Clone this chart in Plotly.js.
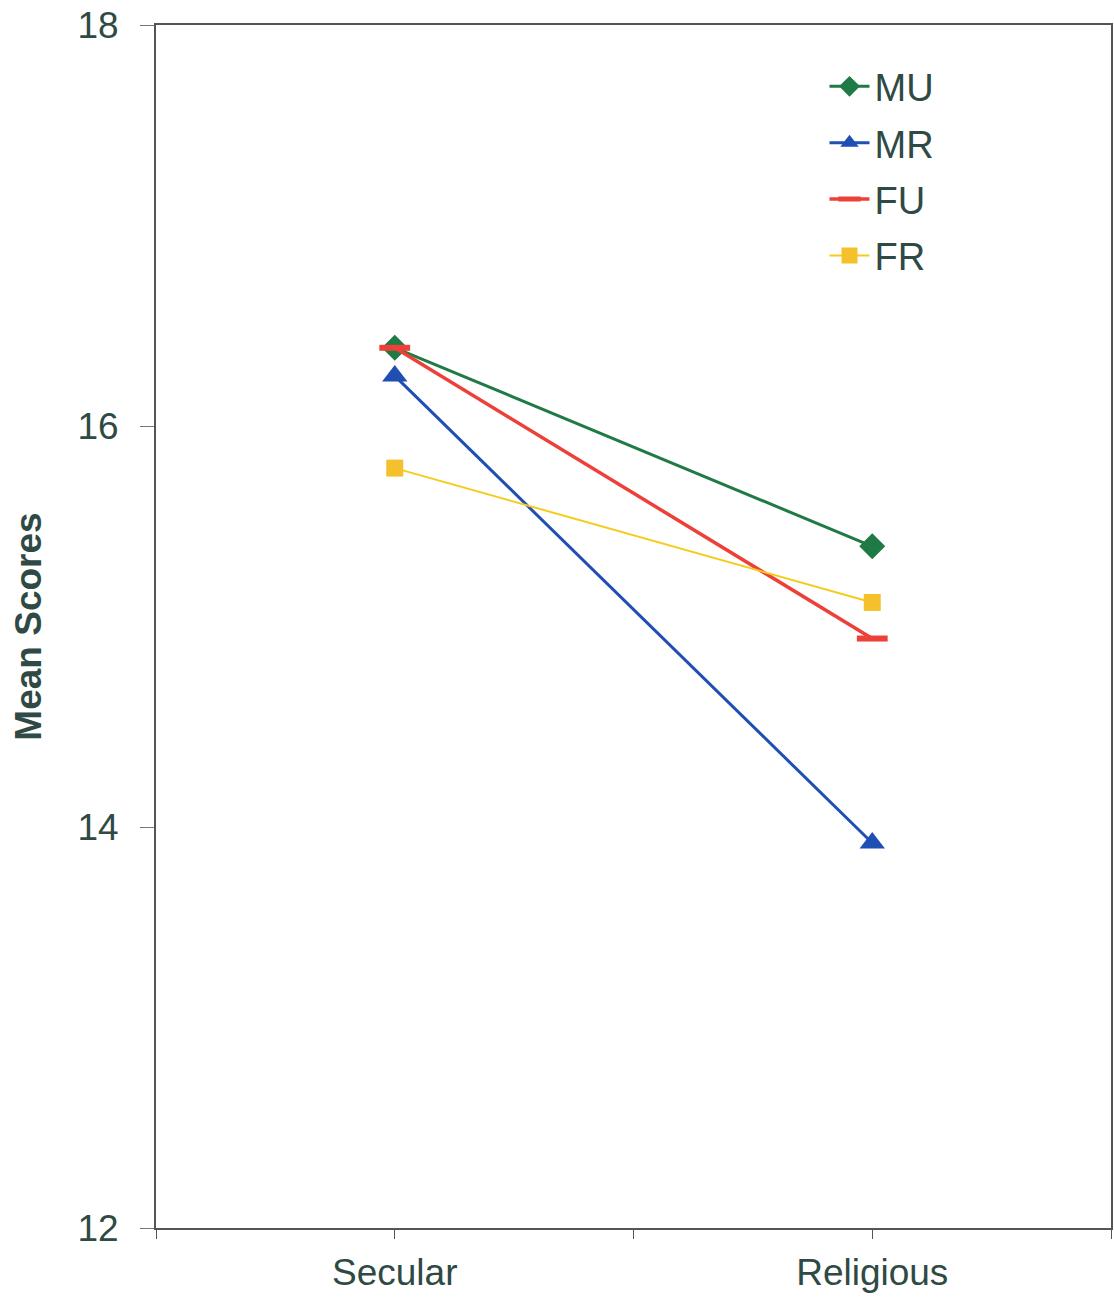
<!DOCTYPE html>
<html>
<head>
<meta charset="utf-8">
<script src="https://cdn.plot.ly/plotly-3.0.1.min.js"></script>
<style>html,body{margin:0;padding:0;background:#fff;}#chart{width:1114px;height:1299px;}</style>
</head>
<body>
<div id="chart"></div>
<script>
// Data
const categories = ["Secular", "Religious"];
const seriesNames = ["MU", "MR", "FU", "FR"];
const MU = [16.39, 15.40];
const MR = [16.25, 13.92];
const FU = [16.39, 14.94];
const FR = [15.79, 15.12];
const yTickVals = [12, 14, 16, 18];
const yTickText = ["12", "14", "16", "18"];

const catPos = categories.map((c, i) => i);
const textColor = "#2f4a44";
const fontFam = "Liberation Sans, Arial, sans-serif";

const styles = {
  MU: {line: {color: "#1f7a45", width: 3}, marker: {symbol: "diamond", size: 20, color: "#1f7a45"}},
  MR: {line: {color: "#1f4fb3", width: 3}, marker: {symbol: "triangle-up", size: 22, color: "#1f4fb3"}},
  FU: {line: {color: "#ec4038", width: 3.5}, marker: {symbol: "line-ew", size: 22, color: "#ec4038", line: {color: "#ec4038", width: 6}}},
  FR: {line: {color: "#f5cc1c", width: 2}, marker: {symbol: "square", size: 17, color: "#f4c12c"}}
};
const values = {MU, MR, FU, FR};

const traces = seriesNames.map(n => ({
  type: "scatter",
  mode: "lines+markers",
  name: n,
  legendgroup: n,
  x: catPos,
  y: values[n],
  line: styles[n].line,
  marker: styles[n].marker,
  cliponaxis: false
}));

const layout = {
  width: 1114,
  height: 1299,
  paper_bgcolor: "#ffffff",
  plot_bgcolor: "#ffffff",
  margin: {l: 156, r: 3, t: 25, b: 71},
  font: {family: fontFam, color: textColor},
  showlegend: true,
  legend: {
    x: 0.7, y: 0.975, xanchor: "left", yanchor: "top",
    font: {size: 38, color: textColor, family: fontFam},
    traceorder: "grouped",
    tracegroupgap: 4,
    bgcolor: "rgba(0,0,0,0)",
    itemwidth: 40
  },
  xaxis: {
    range: [-0.5, 1.5],
    tickvals: [-0.5, 0, 0.5, 1, 1.5],
    ticktext: ["", categories[0], "", categories[1], ""],
    ticks: "outside",
    ticklen: 9,
    tickcolor: "#555",
    tickwidth: 1,
    ticklabelstandoff: 2,
    tickfont: {size: 37, color: textColor},
    showline: true,
    linecolor: "#555",
    linewidth: 2,
    mirror: true,
    showgrid: false,
    zeroline: false
  },
  yaxis: {
    range: [12, 18],
    tickvals: yTickVals,
    ticktext: yTickText,
    ticks: "outside",
    ticklen: 14,
    tickcolor: "#777",
    tickwidth: 1,
    ticklabelstandoff: 14,
    tickfont: {size: 37, color: textColor},
    showline: true,
    linecolor: "#555",
    linewidth: 2,
    mirror: true,
    showgrid: false,
    zeroline: false,
    title: {text: "<b>Mean Scores</b>", font: {size: 37, color: textColor}, standoff: 24}
  }
};

Plotly.newPlot("chart", traces, layout, {displayModeBar: false, staticPlot: true});
</script>
</body>
</html>
